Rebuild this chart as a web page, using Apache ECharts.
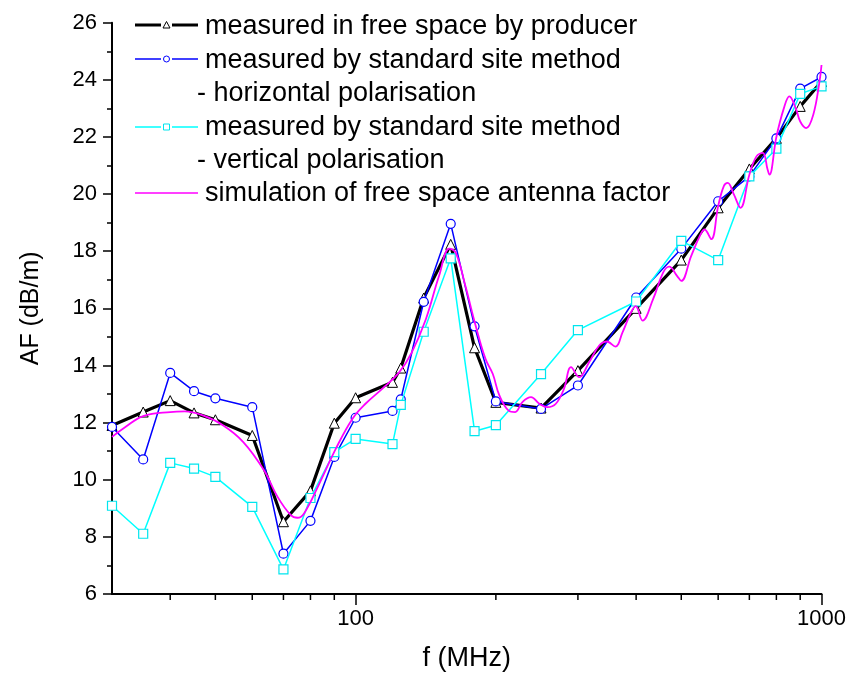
<!DOCTYPE html>
<html>
<head>
<meta charset="utf-8">
<script src="https://cdn.jsdelivr.net/npm/echarts@6/dist/echarts.min.js"></script>
<style>html,body{margin:0;padding:0;background:#fff;}#c{width:849px;height:677px;}</style>
</head>
<body>
<div id="c"></div>
<script>
// ---- data ----
const freq = [30,35,40,45,50,60,70,80,90,100,120,125,140,160,180,200,250,300,400,500,600,700,800,900,1000];
const producerAF = [11.9,12.37,12.77,12.34,12.1,11.55,8.53,9.61,11.98,12.87,13.41,13.91,16.36,18.24,14.62,12.71,12.51,13.82,16.0,17.69,19.52,20.88,21.95,23.07,23.94];
const horizontalAF = [11.85,10.71,13.74,13.1,12.85,12.54,7.41,8.56,10.8,12.17,12.41,12.81,16.23,18.96,15.37,12.74,12.48,13.3,16.38,18.09,19.75,20.62,21.95,23.69,24.1];
const verticalAF = [9.09,8.11,10.59,10.39,10.1,9.05,6.86,9.36,10.97,11.43,11.25,12.62,15.18,17.75,11.7,11.91,13.7,15.24,16.24,18.36,17.69,20.62,21.59,23.51,23.77];
const simFreq = [30,32,35,40,43,47,52,57.4,63.6,68,72.6,75,77.5,83.5,90.7,98.4,105,114,124,132,141.5,151,159,164,172,181,190,197,203.5,213,220,228,238,248,258,269,280,290,302,317,333,346,361,374,390,399,413,435,457,471,490,500,525,550,561,580,600,617,629,648,670,700,725,748,766,773,800,830,853,880,900,927,960,990,1000];
const simAF = [11.5,11.84,12.23,12.37,12.39,12.25,11.9,11.32,10.33,9.4,8.76,8.67,8.82,9.85,11.09,12.13,12.66,13.18,13.76,14.46,15.62,17.13,18.09,17.95,16.79,15.39,14.23,13.7,12.95,12.42,12.37,12.72,12.89,12.66,12.54,12.66,13.18,13.94,13.59,14.11,14.69,14.84,14.66,15.16,15.86,16.08,15.57,16.32,17.25,17.46,17.13,16.96,17.83,18.59,18.76,18.42,19.58,20.28,20.39,20.0,19.52,20.68,21.32,21.44,20.86,20.68,22.0,23.0,23.42,23.01,22.54,22.31,22.78,23.94,24.52];
const xMinorTicks = [40,50,60,70,80,90,200,300,400,500,600,700,800,900];
const yTicks = {min: 6, max: 26, interval: 2};
const xRange = {min: 30, max: 1000};

const legendLabels = [
  'measured in free space by producer',
  'measured by standard site method',
  '- horizontal polarisation',
  'measured by standard site method',
  '- vertical polarisation',
  'simulation of free space antenna factor'
];

const FONT = 'Liberation Sans, Arial, sans-serif';
const zip = (xs, ys) => xs.map((x, i) => [x, ys[i]]);

const chart = echarts.init(document.getElementById('c'), null, {renderer: 'canvas'});

// legend drawn as graphic
const g = [];
function legLine(y, color, w, gap) {
  if (gap) {
    g.push({type:'line', shape:{x1:135,y1:y,x2:161,y2:y}, style:{stroke:color, lineWidth:w}});
    g.push({type:'line', shape:{x1:172,y1:y,x2:198,y2:y}, style:{stroke:color, lineWidth:w}});
  } else {
    g.push({type:'line', shape:{x1:135,y1:y,x2:198,y2:y}, style:{stroke:color, lineWidth:w}});
  }
}
legLine(25, '#000', 3, true);
g.push({type:'polygon', shape:{points:[[166.5,21.5],[163,28],[170,28]]}, style:{fill:'#fff', stroke:'#000', lineWidth:1}});
legLine(59, '#0000ff', 1.5, true);
g.push({type:'circle', shape:{cx:166.5, cy:59, r:3}, style:{fill:'#fff', stroke:'#0000ff', lineWidth:1}});
legLine(127, '#00ffff', 1.5, true);
g.push({type:'rect', shape:{x:163.5, y:124, width:6, height:6}, style:{fill:'#fff', stroke:'#00e5ee', lineWidth:1}});
legLine(193, '#ff00ff', 1.5, false);
const legY = [26.5, 60.5, 93.5, 128, 160.5, 194];
const legX = [205, 205, 197, 205, 197, 205];
legendLabels.forEach((t, i) => {
  g.push({type:'text', x: legX[i], y: legY[i], style:{text:t, font:'27px ' + FONT, fill:'#000', textVerticalAlign:'middle', verticalAlign:'middle'}});
});

const option = {
  backgroundColor: '#fff',
  animation: false,
  grid: {left: 112, right: 27, top: 22.7, bottom: 82, containLabel: false},
  xAxis: {
    type: 'log', logBase: 10, min: xRange.min, max: xRange.max,
    name: 'f (MHz)', nameLocation: 'middle', nameGap: 51,
    nameTextStyle: {fontSize: 27, color: '#000', fontFamily: FONT},
    axisLine: {show: true, onZero: false, lineStyle: {color: '#000', width: 2}},
    axisTick: {show: true, length: 11, lineStyle: {color: '#000', width: 1.5}},
    minorTick: {show: false},
    splitLine: {show: false}, minorSplitLine: {show: false},
    axisLabel: {
      fontSize: 22, color: '#000', fontFamily: FONT, margin: 14,
      showMinLabel: false,
      formatter: v => { const l = Math.log10(v); return Math.abs(l - Math.round(l)) < 1e-6 && Math.round(l) >= 2 ? String(Math.round(v)) : ''; }
    }
  },
  yAxis: {
    type: 'value', min: yTicks.min, max: yTicks.max, interval: yTicks.interval,
    name: 'AF (dB/m)', nameLocation: 'middle', nameGap: 68,
    nameTextStyle: {fontSize: 25, color: '#000', fontFamily: FONT},
    axisLine: {show: true, lineStyle: {color: '#000', width: 2}},
    axisTick: {show: true, length: 9, lineStyle: {color: '#000', width: 1.5}},
    minorTick: {show: true, splitNumber: 2, length: 5, lineStyle: {color: '#000', width: 1.5}},
    splitLine: {show: false},
    axisLabel: {fontSize: 22, color: '#000', fontFamily: FONT, margin: 15}
  },
  graphic: g,
  series: [
    {
      type: 'custom', silent: true, clip: false, z: 1,
      data: xMinorTicks.map(f => [f, yTicks.min]),
      encode: {x: 0, y: 1},
      renderItem: (params, api) => {
        const p = api.coord([api.value(0), api.value(1)]);
        return {type: 'line', shape: {x1: p[0], y1: p[1], x2: p[0], y2: p[1] + 6}, style: {stroke: '#000', lineWidth: 1.5}};
      }
    },
    {
      name: 'producer', type: 'line', data: zip(freq, producerAF),
      symbol: 'triangle', symbolSize: 10,
      lineStyle: {color: '#000', width: 3.2},
      itemStyle: {color: '#fff', borderColor: '#000', borderWidth: 1}, z: 3
    },
    {
      name: 'horizontal', type: 'line', data: zip(freq, horizontalAF),
      symbol: 'circle', symbolSize: 9,
      lineStyle: {color: '#0000ff', width: 1.5},
      itemStyle: {color: '#fff', borderColor: '#0000ff', borderWidth: 1.2}, z: 4
    },
    {
      name: 'vertical', type: 'line', data: zip(freq, verticalAF),
      symbol: 'rect', symbolSize: 9,
      lineStyle: {color: '#00ffff', width: 1.5},
      itemStyle: {color: '#fff', borderColor: '#00e5ee', borderWidth: 1.2}, z: 5
    },
    {
      name: 'simulation', type: 'line', data: zip(simFreq, simAF),
      showSymbol: false, symbol: 'none', smooth: 0.4,
      lineStyle: {color: '#ff00ff', width: 1.8}, z: 6
    }
  ]
};
chart.setOption(option);
</script>
</body>
</html>
